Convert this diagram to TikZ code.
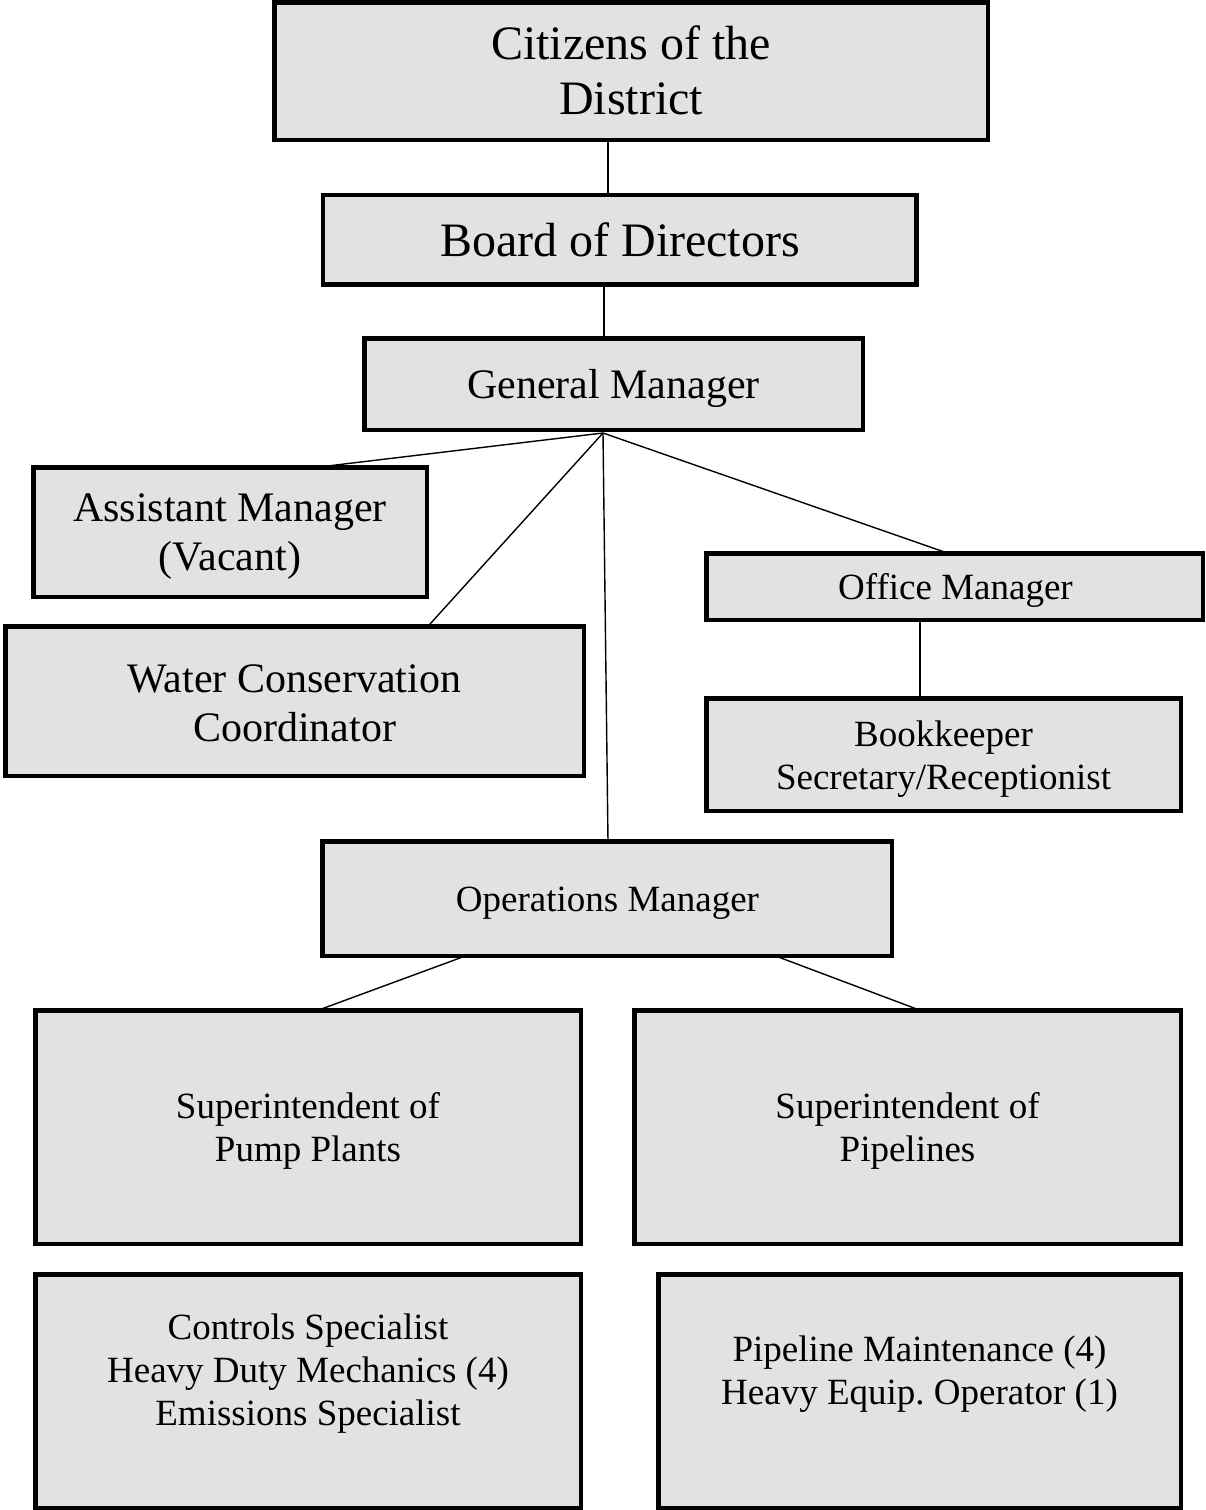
\documentclass[tikz,border=0pt]{standalone}
\usepackage{fontspec}
\setmainfont{Liberation Serif}
\definecolor{boxfill}{HTML}{E2E2E2}
\newcommand\fsbig{\fontsize{48}{55}\selectfont}
\newcommand\fsmid{\fontsize{42}{49}\selectfont}
\newcommand\fssml{\fontsize{37}{43}\selectfont}
\tikzset{
  box/.style={draw=black, line width=4.5pt, fill=boxfill, rectangle, inner sep=0pt, outer sep=0pt},
  txt/.style={inner sep=0pt, outer sep=0pt, align=center},
  conn/.style={draw=black, line width=1.4pt}
}
\begin{document}
\begin{tikzpicture}[x=1pt,y=-1pt]
\useasboundingbox (0,0) rectangle (1205,1510);
% boxes
\node[box, minimum width=713.5pt, minimum height=137.5pt] (cit) at (631,71) {};
\node[box, minimum width=593.5pt, minimum height=89.5pt] (bod) at (619.5,239.5) {};
\node[box, minimum width=498.5pt, minimum height=91.5pt] (gm) at (613.5,384) {};
\node[box, minimum width=393.5pt, minimum height=129.5pt] (am) at (230,532) {};
\node[box, minimum width=578.5pt, minimum height=149.5pt] (wc) at (294.5,701) {};
\node[box, minimum width=496.5pt, minimum height=66.5pt] (om) at (954.5,586.5) {};
\node[box, minimum width=474.5pt, minimum height=112.5pt] (bk) at (943.5,754.5) {};
\node[box, minimum width=569.5pt, minimum height=114.5pt] (ops) at (607,898.5) {};
\node[box, minimum width=545.5pt, minimum height=233.5pt] (sp) at (308,1127) {};
\node[box, minimum width=546.5pt, minimum height=233.5pt] (spl) at (907.5,1127) {};
\node[box, minimum width=545.5pt, minimum height=233.5pt] (ctrl) at (308,1391) {};
\node[box, minimum width=522.5pt, minimum height=233.5pt] (pm) at (919.5,1391) {};
% texts
\node[txt, font=\fsbig] (citt) at (631,70) {Citizens of the\\District};
\node[txt, font=\fsbig] (bodt) at (620,239.5) {Board of Directors};
\node[txt, font=\fsmid] (gmt) at (613.5,388) {General Manager};
\node[txt, font=\fsmid] (amt) at (230,537) {Assistant Manager\\(Vacant)};
\node[txt, font=\fsmid] (wct) at (294.5,703) {Water Conservation\\Coordinator};
\node[txt, font=\fssml] (omt) at (955.5,590.5) {Office Manager};
\node[txt, font=\fssml] (bkt) at (943.5,759.5) {Bookkeeper\\Secretary/Receptionist};
\node[txt, font=\fssml] (opst) at (607.5,903.5) {Operations Manager};
\node[txt, font=\fssml] (spt) at (308,1131) {Superintendent of\\Pump Plants};
\node[txt, font=\fssml] (splt) at (907.5,1131) {Superintendent of\\Pipelines};
\node[txt, font=\fssml] (ctrlt) at (308,1374) {Controls Specialist\\Heavy Duty Mechanics (4)\\Emissions Specialist};
\node[txt, font=\fssml] (pmt) at (919.5,1374) {Pipeline Maintenance (4)\\Heavy Equip.\ Operator (1)};
% connectors
\coordinate (hub) at (603,433);
\draw[conn] ([xshift=-23pt]cit.south) -- ([xshift=-11.5pt]bod.north);
\draw[conn] ([xshift=-15.5pt]bod.south) -- ([xshift=-9.5pt]gm.north);
\draw[conn] (hub) -- ([xshift=87pt]am.north);
\draw[conn] (hub) -- ([xshift=133.5pt]wc.north);
\draw[conn] (hub) -- ([xshift=1pt]ops.north);
\draw[conn] (hub) -- ([xshift=-6.5pt]om.north);
\draw[conn] ([xshift=-34.5pt]om.south) -- ([xshift=-23.5pt]bk.north);
\draw[conn] ([xshift=-141pt]ops.south) -- ([xshift=10pt]sp.north);
\draw[conn] ([xshift=168pt]ops.south) -- ([xshift=12.5pt]spl.north);
\end{tikzpicture}
\end{document}
